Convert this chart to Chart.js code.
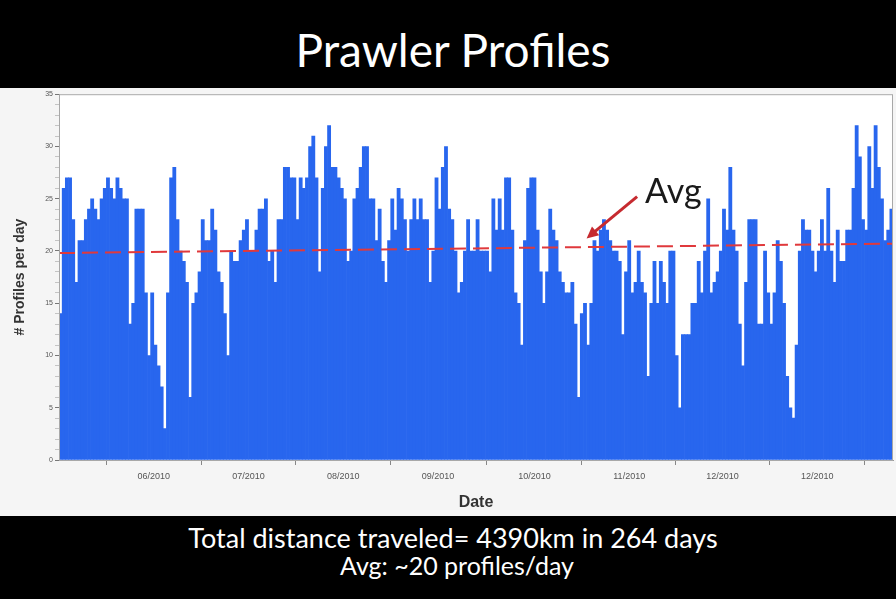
<!DOCTYPE html>
<html>
<head>
<meta charset="utf-8">
<title>Prawler Profiles</title>
<script src="https://cdn.jsdelivr.net/npm/chart.js@4.4.1/dist/chart.umd.min.js"></script>
<style>
    html, body { margin: 0; padding: 0; background: #000; }
    body { width: 896px; height: 599px; position: relative; overflow: hidden; font-family: Lato, 'Open Sans', sans-serif; }
    #header { position: absolute; left: 0; top: 0; width: 896px; height: 88px; color: #fff; text-align: center; font-size: 46px; line-height: 46px; }
    #header span { position: absolute; left: 10px; right: 0; top: 27px; }
    #plot { position: absolute; left: 0; top: 88px; width: 896px; height: 428px; background: #f5f5f5; }
    #footer { position: absolute; left: 0; top: 516px; width: 896px; height: 83px; color: #fff; text-align: center; }
    #footer .l1 { position: absolute; left: 10px; right: 0; top: 5px; font-size: 27px; }
    #footer .l2 { position: absolute; left: 18px; right: 0; top: 34px; font-size: 25px; }
</style>
</head>
<body>
<div id="header"><span>Prawler Profiles</span></div>
<div id="plot"><canvas id="profilesChart" width="896" height="428"></canvas></div>
<div id="footer">
    <div class="l1">Total distance traveled= 4390km in 264 days</div>
    <div class="l2">Avg: ~20 profiles/day</div>
</div>
<script>
// profiles per day, one value per day (264 days)
const profilesPerDay = [
    14, 26, 27, 27, 23, 17, 21, 21, 23, 24,
    25, 24, 23, 25, 26, 27, 26, 25, 27, 26,
    25, 25, 13, 15, 24, 24, 24, 16, 10, 16,
    11, 9, 7, 3, 16, 27, 28, 23, 20, 19,
    17, 6, 15, 16, 18, 23, 21, 21, 24, 22,
    18, 17, 14, 10, 20, 19, 19, 21, 22, 23,
    20, 20, 22, 24, 24, 25, 19, 20, 17, 23,
    23, 28, 28, 27, 27, 23, 27, 26, 27, 30,
    31, 27, 18, 26, 30, 32, 28, 28, 27, 26,
    25, 19, 20, 25, 26, 28, 30, 30, 25, 25,
    21, 24, 19, 17, 21, 25, 22, 26, 25, 23,
    20, 23, 25, 23, 25, 23, 23, 17, 20, 27,
    24, 28, 30, 24, 23, 20, 16, 17, 20, 23,
    20, 20, 23, 20, 20, 20, 18, 25, 22, 25,
    22, 27, 27, 22, 16, 15, 11, 21, 26, 27,
    27, 22, 18, 15, 18, 24, 22, 21, 18, 17,
    16, 16, 17, 13, 6, 14, 15, 11, 15, 21,
    20, 22, 23, 22, 21, 20, 20, 19, 12, 18,
    21, 16, 17, 20, 17, 16, 8, 15, 19, 15,
    19, 17, 15, 20, 20, 10, 5, 12, 12, 12,
    15, 15, 19, 16, 20, 25, 16, 17, 18, 20,
    24, 22, 28, 22, 20, 13, 9, 17, 23, 23,
    23, 13, 13, 20, 16, 13, 16, 21, 19, 15,
    8, 5, 4, 11, 20, 23, 22, 22, 20, 18,
    20, 23, 20, 26, 20, 17, 22, 19, 19, 22,
    22, 26, 32, 29, 23, 22, 30, 26, 32, 28,
    25, 21, 22, 24
];

// date ticks (day index where each label sits) and their labels
const tickDays = [29.5, 59.5, 89.5, 119.5, 150, 180, 209.5, 239.5];
const tickLabels = ['06/2010', '07/2010', '08/2010', '09/2010', '10/2010', '11/2010', '12/2010', '12/2010'];

// average trend line, start and end value
const avgStart = 19.8;
const avgEnd = 20.7;

// "Avg" callout, in data units (day, profiles)
const avgArrowFrom = { x: 182.5, y: 25.2 };
const avgArrowTo = { x: 166.5, y: 21.2 };

const firstDay = -0.5;
const lastDay = profilesPerDay.length - 0.5;

const plotFrame = {
    id: 'plotFrame',
    beforeDraw(chart) {
        const { ctx, chartArea } = chart;
        ctx.save();
        ctx.fillStyle = '#ffffff';
        ctx.fillRect(chartArea.left, chartArea.top, chartArea.right - chartArea.left, chartArea.bottom - chartArea.top);
        ctx.restore();
    },
    afterDraw(chart) {
        const { ctx, chartArea } = chart;
        ctx.save();
        ctx.strokeStyle = '#a8a8a8';
        ctx.lineWidth = 1;
        ctx.strokeRect(chartArea.left + 0.5, chartArea.top + 0.5, chartArea.right - chartArea.left - 1, chartArea.bottom - chartArea.top);
        ctx.restore();
    }
};

const avgCallout = {
    id: 'avgCallout',
    afterDatasetsDraw(chart) {
        const { ctx, scales } = chart;
        const x1 = scales.x.getPixelForValue(avgArrowFrom.x);
        const y1 = scales.y.getPixelForValue(avgArrowFrom.y);
        const x2 = scales.x.getPixelForValue(avgArrowTo.x);
        const y2 = scales.y.getPixelForValue(avgArrowTo.y);
        const angle = Math.atan2(y2 - y1, x2 - x1);
        const head = 13;
        ctx.save();
        ctx.strokeStyle = '#c62a2f';
        ctx.fillStyle = '#c62a2f';
        ctx.lineWidth = 3;
        ctx.beginPath();
        ctx.moveTo(x1, y1);
        ctx.lineTo(x2 - Math.cos(angle) * head * 0.7, y2 - Math.sin(angle) * head * 0.7);
        ctx.stroke();
        ctx.beginPath();
        ctx.moveTo(x2, y2);
        ctx.lineTo(x2 - head * Math.cos(angle - 0.45), y2 - head * Math.sin(angle - 0.45));
        ctx.lineTo(x2 - head * Math.cos(angle + 0.45), y2 - head * Math.sin(angle + 0.45));
        ctx.closePath();
        ctx.fill();
        ctx.fillStyle = '#1a1a1a';
        ctx.font = '34px Lato, sans-serif';
        ctx.textBaseline = 'alphabetic';
        ctx.fillText('Avg', x1 + 8, y1 + 6);
        ctx.restore();
    }
};

const ctx = document.getElementById('profilesChart');
new Chart(ctx, {
    type: 'bar',
    data: {
        datasets: [
            {
                type: 'line',
                data: [{ x: firstDay, y: avgStart }, { x: lastDay, y: avgEnd }],
                borderColor: '#e0393c',
                borderWidth: 2,
                borderDash: [16, 7],
                pointRadius: 0,
                fill: false,
                order: 1
            },
            {
                type: 'bar',
                data: profilesPerDay.map((v, i) => ({ x: i, y: v })),
                backgroundColor: '#2866ee',
                borderWidth: 0,
                barPercentage: 1,
                categoryPercentage: 1,
                order: 2
            }
        ]
    },
    options: {
        responsive: false,
        animation: false,
        layout: { padding: { left: 0, right: 3, top: 5, bottom: 0 } },
        plugins: {
            legend: { display: false },
            tooltip: { enabled: false }
        },
        scales: {
            x: {
                type: 'linear',
                min: firstDay,
                max: lastDay,
                offset: false,
                afterBuildTicks: axis => { axis.ticks = tickDays.map(v => ({ value: v })); },
                afterFit: axis => { axis.height = 56; },
                grid: { drawOnChartArea: false, tickLength: 5, color: '#888' },
                border: { color: '#999' },
                ticks: {
                    autoSkip: false,
                    maxRotation: 0,
                    color: '#555',
                    padding: 6,
                    font: { size: 9 },
                    callback: (value, index) => tickLabels[index]
                },
                title: {
                    display: true,
                    text: 'Date',
                    color: '#333',
                    font: { family: 'Liberation Sans', size: 16, weight: 'bold' },
                    padding: { top: 4 }
                }
            },
            y: {
                min: 0,
                max: 35,
                afterFit: axis => { axis.width = 59; },
                grid: {
                    drawOnChartArea: false,
                    tickLength: 4,
                    tickColor: c => (c.tick && c.tick.value % 5 === 0 ? '#777' : '#c4c4c4')
                },
                border: { color: '#999' },
                ticks: {
                    stepSize: 1,
                    autoSkip: false,
                    color: '#555',
                    font: { size: 7 },
                    padding: 2,
                    callback: v => (v % 5 === 0 ? v : '')
                },
                title: {
                    display: true,
                    text: '# Profiles per day',
                    color: '#333',
                    font: { family: 'Liberation Sans', size: 14, weight: 'bold' },
                    padding: { top: 12, bottom: 0 }
                }
            }
        }
    },
    plugins: [plotFrame, avgCallout]
});
</script>
</body>
</html>
